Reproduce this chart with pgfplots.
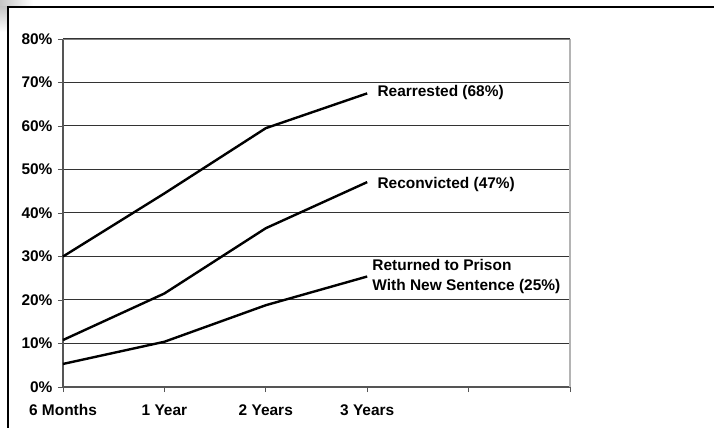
\documentclass[border=0pt]{standalone}
\usepackage{fontspec}
\setmainfont{Liberation Sans}
\usepackage{pgfplots}
\pgfplotsset{compat=1.18}
\definecolor{axgray}{HTML}{555555}
\definecolor{rgray}{HTML}{B4B4B4}
\begin{document}
\begin{tikzpicture}
\begin{axis}[
  at={(0,0)}, anchor=south west,
  scale only axis, width=507bp, height=348bp,
  xmin=0, xmax=5, ymin=0, ymax=80,
  axis x line*=bottom, axis y line*=left,
  axis line style={axgray, line width=1.3bp, -},
  xtick={0,1,2,3,4,5},
  xticklabels={6 Months,1 Year,2 Years,3 Years,,},
  ytick={0,10,20,30,40,50,60,70,80},
  yticklabels={0\%,10\%,20\%,30\%,40\%,50\%,60\%,70\%,80\%},
  tick align=outside, major tick length=5bp,
  tick style={axgray, line width=0.9bp},
  ymajorgrids, major grid style={black!80, line width=1bp},
  xticklabel style={font=\fontsize{15.5}{17}\selectfont\bfseries, anchor=base, yshift=-23bp},
  yticklabel style={font=\fontsize{15.5}{17}\selectfont\bfseries, xshift=-2bp},
  clip=false,
]
\draw[rgray, line width=1.6bp] (rel axis cs:1,0) -- (rel axis cs:1,1);
\draw[gray, line width=0.8bp] (rel axis cs:0,1) -- (rel axis cs:1,1);
\addplot[black, line width=2.4bp] coordinates {(0,30) (1,44.5) (2,59.5) (3,67.5)};
\addplot[black, line width=2.4bp] coordinates {(0,10.8) (1,21.5) (2,36.5) (3,47.1)};
\addplot[black, line width=2.4bp] coordinates {(0,5.3) (1,10.4) (2,18.8) (3,25.4)};
\node[anchor=west, font=\fontsize{15.5}{17}\selectfont\bfseries, inner sep=0pt] at (axis cs:3.1,67.6) {Rearrested (68\%)};
\node[anchor=west, font=\fontsize{15.5}{17}\selectfont\bfseries, inner sep=0pt] at (axis cs:3.1,46.6) {Reconvicted (47\%)};
\fill[white] (axis cs:3.01,20.2) rectangle (axis cs:4.97,29.8);
\node[anchor=west, font=\fontsize{15.5}{20}\selectfont\bfseries, inner sep=0pt, align=left] at (axis cs:3.05,25.5) {Returned to Prison\\With New Sentence (25\%)};
\end{axis}
\shade[left color=gray!45, right color=white] (-63bp,380bp) rectangle (-30bp,387bp);
\shade[top color=gray!45, bottom color=white] (-63bp,355bp) rectangle (-56bp,380bp);
\draw[black, line width=1.4bp] (-55bp,-41bp) -- (-55bp,380bp) -- (651bp,380bp);
\pgfresetboundingbox
\path (-63bp,-41bp) rectangle (651bp,387bp);
\end{tikzpicture}
\end{document}
